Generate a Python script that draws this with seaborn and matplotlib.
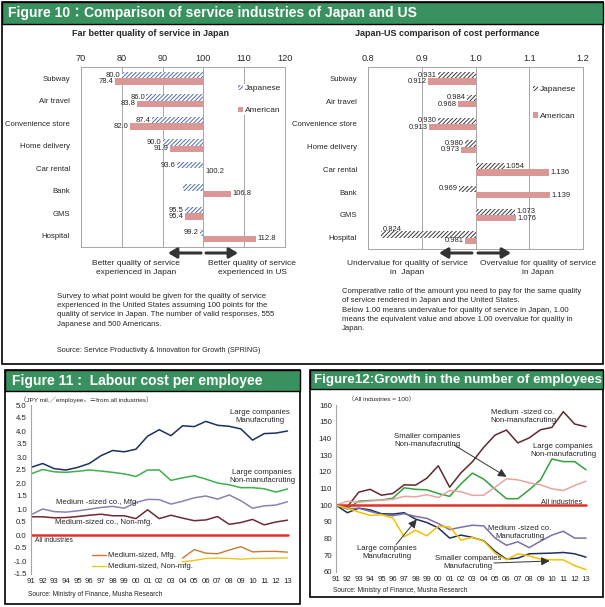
import matplotlib
matplotlib.use("Agg")
import matplotlib.pyplot as plt
from matplotlib.patches import Rectangle, Patch, FancyArrowPatch
from matplotlib.lines import Line2D
import numpy as np
import pandas as pd
import seaborn as sns

W, H = 605, 607

# ---- Figure 10 data ----
services = ["Subway", "Air travel", "Convenience store", "Home delivery",
            "Car rental", "Bank", "GMS", "Hospital"]
quality_jp = [80.0, 86.0, 87.4, 90.0, 93.6, 95.0, 95.5, 99.2]
quality_us = [78.4, 83.8, 82.0, 91.9, 100.2, 106.8, 95.4, 112.8]
quality_ticks = [70, 80, 90, 100, 110, 120]
cost_jp = [0.931, 0.984, 0.930, 0.980, 1.054, 0.969, 1.073, 0.824]
cost_us = [0.912, 0.968, 0.913, 0.973, 1.136, 1.139, 1.076, 0.981]
cost_ticks = [0.8, 0.9, 1.0, 1.1, 1.2]

# ---- Figure 11 data (JPY mil. per employee, difference from all industries) ----
years = list(range(1991, 2014))
lab_large_mfg = [2.6, 2.75, 2.55, 2.5, 2.6, 2.75, 3.05, 3.25, 3.2, 3.3, 3.8, 4.05,
                 3.82, 4.2, 4.17, 4.37, 4.22, 4.18, 4.08, 3.65, 3.9, 3.92, 4.0]
lab_large_non = [2.35, 2.52, 2.43, 2.41, 2.45, 2.5, 2.46, 2.41, 2.35, 2.25, 2.5, 2.5,
                 2.1, 2.2, 2.28, 2.15, 2.0, 1.93, 1.82, 1.82, 1.78, 1.65, 1.77]
lab_med_mfg = [0.78, 1.0, 0.9, 0.88, 0.93, 0.99, 1.06, 1.1, 1.03, 1.25, 1.37, 1.36,
               1.19, 1.3, 1.43, 1.5, 1.38, 1.54, 1.32, 1.03, 1.12, 1.15, 1.28]
lab_med_non = [0.7, 0.7, 0.66, 0.67, 0.71, 0.76, 0.8, 0.74, 0.74, 0.63, 0.97, 0.63,
               0.76, 0.65, 0.55, 0.58, 0.71, 0.41, 0.48, 0.6, 0.39, 0.5, 0.57]
lab_all = [0.0] * 23
lab_mid_mfg = [None] * 13 + [-0.89, -0.56, -0.7, -0.72, -0.58, -0.45, -0.65, -0.63, -0.63, -0.66]
lab_mid_non = [None] * 13 + [-1.03, -0.98, -0.9, -0.89, -0.9, -0.93, -0.9, -0.9, -0.89, -0.88]
lab_yticks = [-1.5, -1.0, -0.5, 0.0, 0.5, 1.0, 1.5, 2.0, 2.5, 3.0, 3.5, 4.0, 4.5, 5.0]

# ---- Figure 12 data (number of employees, all industries = 100) ----
emp_med_non = [100, 99, 107.8, 109.5, 106, 107, 112.2, 112, 116.2, 123.6, 110.8, 119.4,
               126, 134.7, 142, 145, 137.3, 140.3, 145.2, 146.6, 156, 148.6, 147]
emp_large_non = [100, 98, 102.4, 102.8, 103.1, 104.2, 110.4, 109.5, 109.2, 107, 105.3, 112.8,
                 119.2, 115.6, 109.6, 103.9, 103.9, 109.2, 115.2, 127.7, 126.1, 126.1, 121.2]
emp_small_non = [100, 102.4, 101.8, 102.5, 103, 103.5, 105.3, 105, 106.3, 104.6, 108.8, 108,
                 105.9, 106, 110.8, 115.8, 115.2, 113.4, 112.2, 109.8, 108.8, 111.8, 114.4]
emp_all = [100] * 23
emp_large_mfg = [100, 95.5, 98.2, 97.2, 94.9, 94.7, 95.5, 91.7, 89.6, 86.4, 80.3, 82.1,
                 80.7, 78.7, 72.4, 67.7, 68.3, 70.9, 71.1, 71.3, 71.7, 70.9, 68.9]
emp_med_mfg = [100, 97.8, 98.2, 96.3, 94.5, 93.7, 94.9, 93.3, 92.1, 89, 85.4, 86.8,
               88, 87.6, 80.3, 76, 78.1, 74.6, 78.5, 82.1, 84.4, 80.3, 80.3]
emp_small_mfg = [100, 98.2, 95.9, 93.9, 94.3, 92.3, 81.1, 85, 81.7, 87.4, 87, 79.1,
                 80.7, 78.5, 71.3, 67.3, 70.9, 69.7, 67.7, 67.3, 67.3, 63.8, 61.4]
emp_yticks = list(range(60, 161, 10))

GREEN = "#3A9160"
PINK = "#D99795"
GRAY = "#A6A6A6"
TXT = "#262626"
HATCH = "////////"

sns.set_style("white")
plt.rcParams["font.family"] = ["Liberation Sans", "Noto Sans CJK JP", "DejaVu Sans"]
plt.rcParams["hatch.linewidth"] = 0.7

fig = plt.figure(figsize=(W / 100, H / 100), dpi=100)


def box(x0, y0, x1, y1):
    return [x0 / W, 1 - y1 / H, (x1 - x0) / W, (y1 - y0) / H]


def ftext(x, y, s, **kw):
    kw.setdefault("fontsize", 5.5)
    kw.setdefault("color", TXT)
    kw.setdefault("va", "center")
    fig.text(x / W, 1 - y / H, s, **kw)


def panel(x0, y0, x1, y1, hy, title, tx, tsize):
    fig.add_artist(Rectangle((x0 / W, 1 - y1 / H), (x1 - x0) / W, (y1 - y0) / H,
                             transform=fig.transFigure, fill=False, ec="black", lw=1.2))
    fig.add_artist(Rectangle((x0 / W, 1 - hy / H), (x1 - x0) / W, (hy - y0) / H,
                             transform=fig.transFigure, fc=GREEN, ec="black", lw=1.0))
    ftext(tx, (y0 + hy) / 2, title, color="white", fontsize=tsize, fontweight="bold")


def bar_chart(rect, jp, us, base, ticks, tick_fmt, val_fmt, hatch_color, leg_xy, leg_space, skip):
    ax = fig.add_axes(box(*rect))
    df = pd.DataFrame({"service": services * 2,
                       "group": ["Japanese"] * 8 + ["American"] * 8,
                       "value": jp + us})
    df["delta"] = df["value"] - base
    sns.barplot(data=df, x="delta", y="service", hue="group", orient="h", width=0.56,
                palette={"Japanese": "white", "American": PINK}, saturation=1,
                errorbar=None, legend=False, ax=ax)
    for k, cont in enumerate(ax.containers):
        vals = jp if k == 0 else us
        labels = []
        for bar in cont:
            i = int(round(bar.get_y() + bar.get_height() / 2))
            if k == 0:
                bar.set_hatch(HATCH)
                bar.set_edgecolor(hatch_color)
                bar.set_linewidth(0)
            else:
                bar.set_edgecolor("none")
            labels.append(val_fmt(vals[i]) if (k, i) not in skip else "")
        ax.bar_label(cont, labels=labels, fontsize=5.5, color=TXT, padding=1)
    ax.set_xlim(ticks[0] - base, ticks[-1] - base)
    ax.set_ylim(7.5, -0.5)
    ax.set_xticks([t - base for t in ticks])
    ax.set_xticklabels([tick_fmt(t) for t in ticks])
    ax.xaxis.tick_top()
    ax.tick_params(axis="x", length=0, labelsize=6.6, pad=3, colors=TXT)
    ax.tick_params(axis="y", length=0, labelsize=5.6, pad=8, colors=TXT)
    ax.set_xlabel("")
    ax.set_ylabel("")
    ax.grid(axis="x", color=GRAY, lw=0.7)
    ax.set_axisbelow(True)
    for s in ax.spines.values():
        s.set_color(GRAY)
        s.set_linewidth(0.7)
    handles = [Patch(fc="white", ec=hatch_color, hatch=HATCH, lw=0), Patch(fc=PINK, ec="none")]
    ax.legend(handles, ["Japanese", "American"], loc="upper left", bbox_to_anchor=leg_xy,
              fontsize=6, handlelength=0.6, handleheight=0.6, handletextpad=0.2,
              labelspacing=leg_space, borderpad=0.1, frameon=True, fancybox=False,
              edgecolor="none", facecolor="white", framealpha=1)
    return ax


def line_chart(rect, series, xlim, ylim, yticks, ytick_fmt):
    ax = fig.add_axes(box(*rect))
    for vals, color, lw in series:
        d = pd.DataFrame({"year": years, "value": vals}).dropna()
        sns.lineplot(data=d, x="year", y="value", color=color, lw=lw, ax=ax)
    ax.set_xlim(*xlim)
    ax.set_ylim(*ylim)
    ax.set_xticks(years)
    ax.set_xticklabels([f"{y % 100:02d}" for y in years])
    ax.set_yticks(yticks)
    ax.set_yticklabels([ytick_fmt(t) for t in yticks])
    ax.tick_params(length=0, labelsize=5.6, colors=TXT, pad=3)
    ax.set_xlabel("")
    ax.set_ylabel("")
    for s in ["top", "right", "bottom"]:
        ax.spines[s].set_visible(False)
    ax.spines["left"].set_color(GRAY)
    ax.spines["left"].set_linewidth(0.8)
    return ax


# ================= Figure 10 =================
panel(2, 2, 603, 364, 24, "Figure 10：Comparison of service industries of Japan and US", 8, 10)
ftext(150, 34, "Far better quality of service in Japan", fontsize=6.5, fontweight="bold", ha="center")
ftext(447, 34, "Japan-US comparison of cost performance", fontsize=6.5, fontweight="bold", ha="center")

bar_chart((81, 67, 285, 247), quality_jp, quality_us, 100, quality_ticks,
          lambda t: f"{t}", lambda v: f"{v:.1f}", "#4F6DAA", (0.745, 0.93), 1.75, {(0, 5)})

ax2 = bar_chart((368, 67, 583, 249), cost_jp, cost_us, 1.0, cost_ticks,
                lambda t: f"{t:.1f}", lambda v: f"{v:.3f}", "#3A3A3A", (0.745, 0.925), 2.3, {(0, 7)})
ax2.annotate(f"{cost_jp[7]:.3f}", xy=(cost_jp[7] - 1.0, 7 - 0.14), xytext=(1, 1),
             textcoords="offset points", ha="left", va="bottom", fontsize=5.5, color=TXT)

arrow = dict(arrowstyle="-|>,head_length=0.5,head_width=0.3", lw=2.2, color="#333333",
             shrinkA=0, shrinkB=0, mutation_scale=10)
for (xa, xb) in [(201, 168), (206, 238), (472, 439), (478, 511)]:
    fig.add_artist(FancyArrowPatch((xa / W, 1 - 253 / H), (xb / W, 1 - 253 / H),
                                   transform=fig.transFigure, **arrow))

ftext(136, 268, "Better quality of service\nexperienced in Japan", ha="center", fontsize=6, linespacing=1.35)
ftext(252, 268, "Better quality of service\nexperienced in US", ha="center", fontsize=6, linespacing=1.35)
ftext(407, 268, "Undervalue for quality of service\nin  Japan", ha="center", fontsize=6, linespacing=1.35)
ftext(538, 268, "Overvalue for quality of service\nin Japan", ha="center", fontsize=6, linespacing=1.35)

ftext(57, 293, "Survey to what point would be given for the quality of service\n"
      "experienced in the United States assuming 100 points for the\n"
      "quality of service in Japan. The number of valid responses, 555\n"
      "Japanese and 500 Americans.", va="top", fontsize=5.6, linespacing=1.45)
ftext(57, 350, "Source: Service Productivity & Innovation for Growth (SPRING)", fontsize=5.2)
ftext(342, 288, "Comperative ratio of the amount you need to pay for the same quality\n"
      "of service rendered in Japan and the United States.\n"
      "Below 1.00 means undervalue for quality of service in Japan, 1.00\n"
      "means the equivalent value and above 1.00 overvalue for quality in\n"
      "Japan.", va="top", fontsize=5.6, linespacing=1.45)

# ================= Figure 11 =================
panel(5, 370, 300, 604, 391, "Figure 11 :  Labour cost per employee", 12, 10)
ax3 = line_chart((31, 405, 291, 574),
                 [(lab_large_mfg, "#1F2F5E", 1.1), (lab_large_non, "#3DB04A", 1.1),
                  (lab_med_mfg, "#8D80B2", 1.1), (lab_med_non, "#6E2B30", 1.1),
                  (lab_all, "#E0322B", 1.8), (lab_mid_mfg, "#CC7633", 1.0),
                  (lab_mid_non, "#F2C318", 1.0)],
                 (1991, 2013.3), (-1.5, 5.0), lab_yticks, lambda t: f"{t:.1f}")
ax3.legend([Line2D([], [], color="#CC7633", lw=1.0), Line2D([], [], color="#F2C318", lw=1.0)],
           ["Medium-sized, Mfg.", "Medium-sized, Non-mfg."], loc="upper left",
           bbox_to_anchor=((88 - 31) / 260, (574 - 548) / 169), fontsize=5.6, frameon=False,
           handlelength=1.8, handletextpad=0.3, labelspacing=0.45, borderpad=0)
ftext(20, 400, "（JPY mil.／employee，＝from all industries）", fontsize=4.6)
ftext(260, 417, "Large companies\nManufacruting", ha="center", fontsize=5.6, linespacing=1.2)
ftext(262, 477, "Large companies\nNon-manufacruting", ha="center", fontsize=5.6, linespacing=1.2)
ftext(56, 503, "Medium -sized co., Mfg.", fontsize=5.6)
ftext(55, 523, "Medium-sized co., Non-mfg.", fontsize=5.6)
ftext(35, 541, "All industries", fontsize=4.8)
ftext(28, 594, "Source: Ministry of Finance, Musha Research", fontsize=4.8)

# ================= Figure 12 =================
panel(310, 370, 603, 597, 389, "Figure12:Growth in the number of employees", 314, 9.6)
ax4 = line_chart((336, 405, 590, 572),
                 [(emp_med_non, "#5E2A2E", 1.1), (emp_large_non, "#33A23C", 1.1),
                  (emp_small_non, "#E6A5A2", 1.1), (emp_all, "#E0322B", 1.8),
                  (emp_large_mfg, "#1F2F5E", 1.1), (emp_med_mfg, "#7E6FA8", 1.1),
                  (emp_small_mfg, "#F2C200", 1.1)],
                 (1991, 2013.35), (60, 160), emp_yticks, lambda t: f"{t}")
ftext(348, 399, "（All industries = 100）", fontsize=4.6)
ftext(523, 416, "Medium -sized co.\nNon-manufacruting", ha="center", fontsize=5.6, linespacing=1.2)
ftext(427, 441, "Smaller companies\nNon-manufacruting", ha="center", fontsize=5.6, linespacing=1.2)
ftext(563, 451, "Large companies\nNon-manufacruting", ha="center", fontsize=5.6, linespacing=1.2)
ftext(562, 502, "All industries", ha="center", fontsize=5.2)
ftext(520, 532, "Medium -sized co.\nManufacruting", ha="center", fontsize=5.6, linespacing=1.2)
ftext(387, 552, "Large companies\nManufacruting", ha="center", fontsize=5.6, linespacing=1.2)
ftext(468, 563, "Smaller companies\nManufacruting", ha="center", fontsize=5.6, linespacing=1.2)
thin = dict(arrowstyle="-|>,head_length=0.5,head_width=0.25", lw=0.7, color="#333333",
            shrinkA=0, shrinkB=0)
ax4.annotate("", xy=(2006.0, 117), xytext=(2001.4, 136), arrowprops=thin)
ax4.annotate("", xy=(1998.1, 91.5), xytext=(1996.3, 76.5), arrowprops=thin)
ax4.annotate("", xy=(2009.8, 66.6), xytext=(2004.9, 65.4), arrowprops=thin)
ftext(333, 591, "Source: Ministry of Finance, Musha Research", fontsize=4.8)

fig.savefig("out.png", dpi=100, facecolor="white")
